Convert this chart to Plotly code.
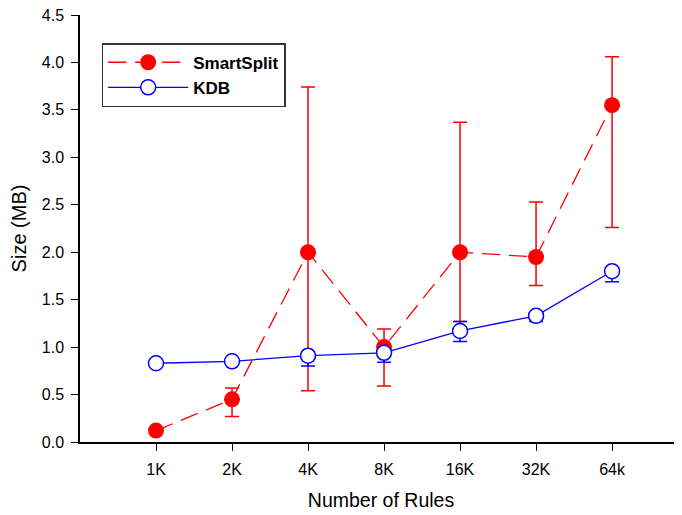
import plotly.graph_objects as go

categories = ["1K", "2K", "4K", "8K", "16K", "32K", "64k"]
smart_vals = [0.12, 0.45, 2.00, 1.00, 2.00, 1.95, 3.55]
smart_upper = [0.12, 0.57, 3.74, 1.19, 3.37, 2.53, 4.06]
smart_lower = [0.12, 0.27, 0.54, 0.59, 1.27, 1.65, 2.26]
kdb_vals = [0.83, 0.85, 0.91, 0.94, 1.17, 1.33, 1.80]
kdb_upper = [0.83, 0.85, 0.91, 0.94, 1.27, 1.33, 1.80]
kdb_lower = [0.83, 0.85, 0.80, 0.84, 1.06, 1.27, 1.69]
y_ticks = [0.0, 0.5, 1.0, 1.5, 2.0, 2.5, 3.0, 3.5, 4.0, 4.5]

xs = list(range(len(categories)))
FONT = "Liberation Sans, Arial, sans-serif"

fig = go.Figure()
fig.add_trace(go.Scatter(
    x=xs, y=smart_vals, name="SmartSplit", mode="lines+markers",
    line=dict(color="#ff0000", width=1.3, dash="18px,9px"),
    marker=dict(size=16, color="#ff0000", line=dict(width=0)),
    error_y=dict(type="data", symmetric=False,
                 array=[u - v for u, v in zip(smart_upper, smart_vals)],
                 arrayminus=[v - l for v, l in zip(smart_vals, smart_lower)],
                 color="#ff0000", thickness=1.5, width=7),
))
fig.add_trace(go.Scatter(
    x=xs, y=kdb_vals, name="KDB", mode="lines+markers",
    line=dict(color="#0000ff", width=1.3),
    marker=dict(size=15, color="white", line=dict(width=1.5, color="#0000ff")),
    error_y=dict(type="data", symmetric=False,
                 array=[u - v for u, v in zip(kdb_upper, kdb_vals)],
                 arrayminus=[v - l for v, l in zip(kdb_vals, kdb_lower)],
                 color="#0000ff", thickness=1.5, width=7),
))

# page body has an 8px default margin; figure sized so the plot lands where the reference has it
fig.update_layout(
    width=674, height=507,
    margin=dict(l=72, r=0, t=7, b=73, autoexpand=False),
    plot_bgcolor="white", paper_bgcolor="white",
    font=dict(family=FONT, color="black", size=16),
    showlegend=True,
    legend=dict(x=0.036, y=0.934, xanchor="left", yanchor="top",
                bgcolor="white", bordercolor="#333333", borderwidth=1.5,
                font=dict(size=17, family=FONT, weight="bold"),
                itemwidth=80, tracegroupgap=0,
                traceorder="normal"),
)
fig.update_xaxes(
    range=[-1, 6.92], tickmode="array", tickvals=xs, ticktext=categories,
    showline=True, linecolor="black", linewidth=1.5,
    ticks="outside", ticklen=7, tickcolor="black", tickwidth=1,
    ticklabelstandoff=5, ticklabeloverflow="allow",
    showgrid=False, zeroline=False, automargin=False,
    title=dict(text="Number of Rules", font=dict(size=19.5), standoff=16),
    tickfont=dict(size=16),
)
fig.update_yaxes(
    range=[0, 4.5], tickmode="array", tickvals=y_ticks,
    ticktext=[f"{v:.1f}" for v in y_ticks],
    showline=True, linecolor="black", linewidth=1.5,
    ticks="outside", ticklen=7, tickcolor="black", tickwidth=1,
    ticklabelstandoff=4, ticklabeloverflow="allow",
    showgrid=False, zeroline=False, automargin=False,
    title=dict(text="Size (MB)", font=dict(size=20), standoff=12),
    tickfont=dict(size=16),
)

fig.write_html("out.html")
